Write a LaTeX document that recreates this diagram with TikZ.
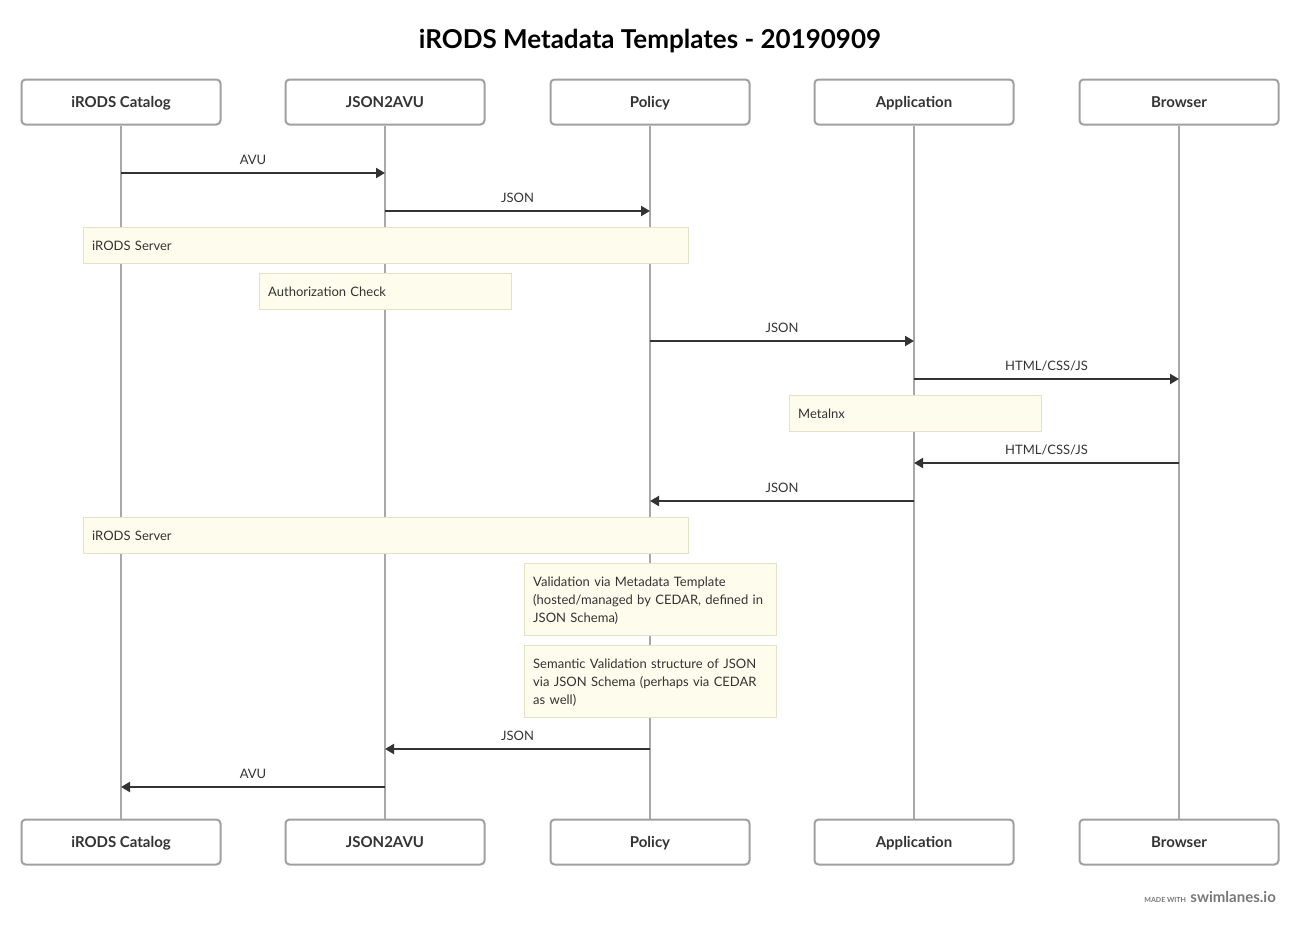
\documentclass[tikz,border=0pt]{standalone}
\usepackage{fontspec}
\setmainfont{Lato}
\usetikzlibrary{arrows.meta,backgrounds}
\definecolor{boxline}{HTML}{A0A0A0}
\definecolor{lifeline}{HTML}{A8A8A8}
\definecolor{ink}{HTML}{333333}
\definecolor{notefill}{HTML}{FEFCEC}
\definecolor{noteline}{HTML}{E4E1C6}
\definecolor{wmark}{HTML}{777777}
\tikzset{
  actor/.style={draw=boxline, line width=2pt, rounded corners=4pt, fill=white,
    minimum width=199pt, minimum height=45pt, inner sep=0pt, text height=13pt, text depth=2pt,
    font=\fontsize{15}{18}\selectfont\bfseries, text=ink},
  life/.style={draw=lifeline, line width=2pt},
  msg/.style={draw=ink, line width=2pt, -{Triangle[length=9pt,width=10pt]}},
  msglabel/.style={font=\fontsize{13}{16}\selectfont, text=ink, inner sep=0pt, anchor=base},
  notebox/.style={draw=noteline, line width=1pt, fill=notefill, inner sep=0pt, anchor=north west},
  notetext/.style={font=\fontsize{13}{18}\selectfont, text=ink, inner sep=0pt, anchor=north west, align=left, text width=245pt}
}
\begin{document}
\begin{tikzpicture}[x=1pt,y=-1pt]
\useasboundingbox (0,0) rectangle (1300,926);
\node[font=\fontsize{26}{30}\selectfont\bfseries, text=black, anchor=base] (title) at (650,48) {iRODS Metadata Templates - 20190909};

% actors top
\node[actor] (cT) at (121,102) {iRODS Catalog};
\node[actor] (jT) at (385,102) {JSON2AVU};
\node[actor] (pT) at (650,102) {Policy};
\node[actor] (aT) at (914,102) {Application};
\node[actor] (bT) at (1179,102) {Browser};
% actors bottom
\node[actor] (cB) at (121,842) {iRODS Catalog};
\node[actor] (jB) at (385,842) {JSON2AVU};
\node[actor] (pB) at (650,842) {Policy};
\node[actor] (aB) at (914,842) {Application};
\node[actor] (bB) at (1179,842) {Browser};

% lifelines
\begin{pgfonlayer}{background}
\draw[life] (cT.south) -- (cB.north);
\draw[life] (jT.south) -- (jB.north);
\draw[life] (pT.south) -- (pB.north);
\draw[life] (aT.south) -- (aB.north);
\draw[life] (bT.south) -- (bB.north);
\end{pgfonlayer}

% coordinates on lifelines
\foreach \n/\x in {c/121,j/385,p/650,a/914,b/1179}{
  \foreach \k/\y in {1/173,2/211,3/341,4/379,5/463,6/501,7/749,8/787}{
    \coordinate (\n\k) at (\x,\y);
  }
}

% messages
\draw[msg] (c1) -- (j1) node[msglabel, midway, yshift=9pt] (l1) {AVU};
\draw[msg] (j2) -- (p2) node[msglabel, midway, yshift=9pt] (l2) {JSON};

% notes
\node[notebox, minimum width=605pt, minimum height=36pt] (n1) at (83,227) {};
\node[notetext] (t1) at (92,241) {iRODS Server};
\node[notebox, minimum width=252pt, minimum height=36pt] (n2) at (259,273) {};
\node[notetext] (t2) at (268,287) {Authorization Check};

\draw[msg] (p3) -- (a3) node[msglabel, midway, yshift=9pt] (l3) {JSON};
\draw[msg] (a4) -- (b4) node[msglabel, midway, yshift=9pt] (l4) {HTML/CSS/JS};

\node[notebox, minimum width=252pt, minimum height=36pt] (n3) at (789,395) {};
\node[notetext] (t3) at (798,409) {Metalnx};

\draw[msg] (b5) -- (a5) node[msglabel, midway, yshift=9pt] (l5) {HTML/CSS/JS};
\draw[msg] (a6) -- (p6) node[msglabel, midway, yshift=9pt] (l6) {JSON};

\node[notebox, minimum width=605pt, minimum height=36pt] (n4) at (83,517) {};
\node[notetext] (t4) at (92,531) {iRODS Server};
\node[notebox, minimum width=252pt, minimum height=72pt] (n5) at (524,563) {};
\node[notetext] (t5) at (533,577) {Validation via Metadata Template\\(hosted/managed by CEDAR, defined in\\JSON Schema)};
\node[notebox, minimum width=252pt, minimum height=72pt] (n6) at (524,645) {};
\node[notetext] (t6) at (533,659) {Semantic Validation structure of JSON\\via JSON Schema (perhaps via CEDAR\\as well)};

\draw[msg] (p7) -- (j7) node[msglabel, midway, yshift=9pt] (l7) {JSON};
\draw[msg] (j8) -- (c8) node[msglabel, midway, yshift=9pt] (l8) {AVU};

% watermark
\node[font=\fontsize{15}{18}\selectfont\bfseries, text=wmark, anchor=base east, inner sep=0pt] (wm) at (1276,902) {swimlanes.io};
\node[font=\fontsize{7}{8}\selectfont\bfseries, text=wmark, anchor=base east, inner sep=0pt] (wm2) at ([xshift=-4pt]wm.base west) {MADE WITH};
\end{tikzpicture}
\end{document}
